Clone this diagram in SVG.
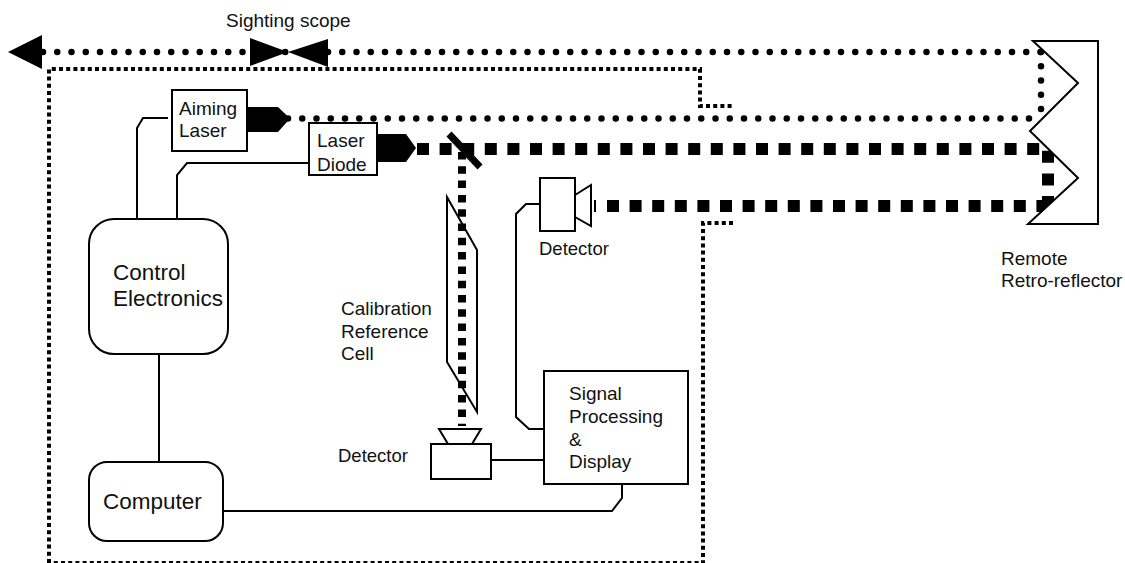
<svg xmlns="http://www.w3.org/2000/svg" width="1125" height="563" viewBox="0 0 1125 563">
<style>
text{font-family:"Liberation Sans",Arial,sans-serif;fill:#111}
.s{font-size:18.500px}.n{font-size:19px}.l{font-size:22.500px}
.b{fill:#fff;stroke:#000;stroke-width:2}
.w{fill:none;stroke:#000;stroke-width:2}
.e{fill:#000;stroke:none}
.round{fill:none;stroke:#000;stroke-width:6.500;stroke-linecap:round;stroke-dasharray:0 14.25}
.square{fill:none;stroke:#000;stroke-width:12;stroke-dasharray:12 10.6}
.vsquare{fill:none;stroke:#000;stroke-width:8;stroke-dasharray:7.500 6.800}
.fine{fill:none;stroke:#000;stroke-width:4;stroke-dasharray:4 3.200}
</style>
<g id="connectors">
<path class="fine" d="M49 563V69H700V106H732"/>
<path class="fine" d="M733 223H703V563H47"/>
<path class="round" d="M43 52H1042"/>
<path class="round" d="M1041 52V118.500"/>
<path class="round" d="M288 118.500H1041"/>
<path class="square" d="M417 149H1048V204"/>
<path class="square" d="M607 206H1048"/>
<path class="vsquare" d="M462 152V424"/>
<rect class="e" x="458" y="424" width="8" height="2"/>
<path class="w" d="M168 118H143L137 128V219"/>
<path class="w" d="M309 163H187L177 175V219"/>
<path class="w" d="M540 204H526L516 214V417L529 429H544"/>
<path class="w" d="M159 354V462"/>
<path class="w" d="M223 511H612L622 498V484"/>
<path class="w" d="M489 460H544"/>
</g>
<g id="sighting-scope">
<text class="n" x="226" y="27">Sighting scope</text>
<path class="e" d="M8 52L42 35V69Z"/>
<path class="e" d="M250 38L288 52L250 66Z"/>
<path class="e" d="M328 39L288 52L328 67Z"/>
</g>
<g id="aiming-laser">
<path class="e" d="M245 107H278L290 118.500L278 132H245Z"/>
<rect class="b" x="172" y="90" width="75" height="61"/>
<text class="n" x="179" y="115">Aiming</text>
<text class="n" x="179" y="137">Laser</text>
</g>
<g id="laser-diode">
<path class="e" d="M376 134H406L416 148L406 162H376Z"/>
<rect class="b" x="309" y="123" width="68" height="52"/>
<text class="n" x="317" y="147">Laser</text>
<text class="n" x="317" y="171">Diode</text>
</g>
<g id="beam-splitter">
<path d="M449 134L480 167" fill="none" stroke="#000" stroke-width="7"/>
</g>
<g id="detector-top">
<rect class="b" x="540" y="178" width="35" height="53"/>
<path class="w" d="M575 195L591 185V226L575 217"/>
<rect class="e" x="594" y="200" width="2" height="12"/>
<text class="s" x="539" y="255">Detector</text>
</g>
<g id="calibration-cell">
<path class="w" d="M447 197V362L477 412V250Z"/>
<text class="n" x="341" y="315">Calibration</text>
<text class="n" x="341" y="338">Reference</text>
<text class="n" x="341" y="360">Cell</text>
</g>
<g id="detector-bottom">
<rect class="b" x="431" y="444" width="60" height="35"/>
<path class="w" d="M439 429H481L472 444H448Z"/>
<text class="s" x="338" y="462">Detector</text>
</g>
<g id="control-electronics">
<rect class="b" x="89" y="219" width="139" height="135" rx="25"/>
<text class="l" x="113" y="280">Control</text>
<text class="l" x="113" y="306">Electronics</text>
</g>
<g id="computer">
<rect class="b" x="89" y="462" width="134" height="79" rx="18"/>
<text class="l" x="103" y="509">Computer</text>
</g>
<g id="signal-processing">
<rect class="b" x="544" y="371" width="144" height="113"/>
<text class="n" x="569" y="400">Signal</text>
<text class="n" x="569" y="423">Processing</text>
<text class="n" x="569" y="446">&amp;</text>
<text class="n" x="569" y="468">Display</text>
</g>
<g id="retro-reflector">
<path class="b" d="M1033 41H1098V224H1028L1078 178L1030 131L1078 83Z"/>
<text class="n" x="1001" y="265">Remote</text>
<text class="n" x="1001" y="287">Retro-reflector</text>
</g>
</svg>
